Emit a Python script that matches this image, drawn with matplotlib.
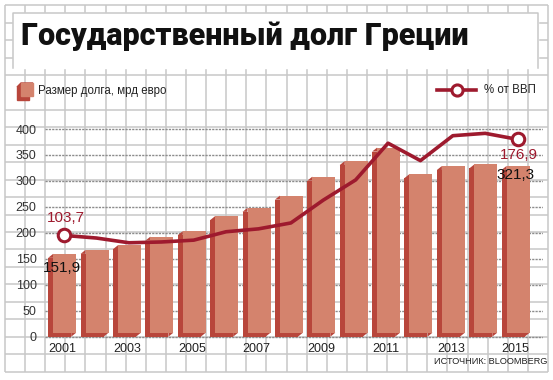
import matplotlib
matplotlib.use('Agg')
import matplotlib.pyplot as plt
import numpy as np

# ---------------- data ----------------
years = [2001, 2002, 2003, 2004, 2005, 2006, 2007, 2008,
         2009, 2010, 2011, 2012, 2013, 2014, 2015]
debt_bn = [151.9, 159.5, 168.5, 185.0, 195.5, 224.5, 240.5, 264.0,
           300.5, 330.5, 356.5, 305.5, 321.0, 324.0, 321.3]
debt_pct = [103.7, 101.7, 98.1, 98.7, 100.1, 106.5, 108.7, 113.2,
            130.6, 146.0, 174.0, 160.7, 179.7, 181.5, 176.9]
xtick_years = [2001, 2003, 2005, 2007, 2009, 2011, 2013, 2015]
yticks = [0, 50, 100, 150, 200, 250, 300, 350, 400]

title = "Государственный долг Греции"
legend_bars = "Размер долга, мрд евро"
legend_line = "% от ВВП"
source = "ИСТОЧНИК: BLOOMBERG"

# ---------------- style ----------------
W, H = 553, 380
GRID = '#c8c8c8'
FRONT = '#d4836d'
BACK = '#b8463b'
LINE = '#9e1a2e'
NARROW = ['Liberation Sans Narrow', 'Liberation Sans', 'DejaVu Sans']
SANS = ['Liberation Sans', 'DejaVu Sans']

fig = plt.figure(figsize=(W / 100, H / 100), dpi=100)
fig.patch.set_facecolor('white')

# background axes in pixel coordinates
bg = fig.add_axes([0, 0, 1, 1], zorder=0)
bg.set_xlim(0, W)
bg.set_ylim(H, 0)
bg.axis('off')

# graph paper
x0, x1, y0, y1 = 5, 548, 5, 372
for gx in np.linspace(x0, x1, 28):
    bg.plot([gx, gx], [y0, y1], color=GRID, lw=1.1, solid_capstyle='butt')
step = 17.45
for k in range(-2, 20):
    gy = 336.7 - step * k
    if 80 < gy < 105:          # legend band has no horizontal line
        continue
    bg.plot([x0, x1], [gy, gy], color=GRID, lw=1.1, solid_capstyle='butt')

# title box
bg.fill([13, 538, 538, 13], [13, 13, 68, 68], color='white', zorder=3)
bg.plot([13, 13, 538, 538], [68, 13, 13, 68], color=GRID, lw=1.1, zorder=4)
bg.text(21, 36, title, fontsize=22, fontweight='black', family=['Roboto', 'DejaVu Sans'],
        color='#111111', va='center', ha='left', zorder=5)

# legend left (cube icon)
bg.fill([17, 29, 29, 17], [87, 87, 100, 100], color=BACK, zorder=5)
bg.fill([17, 21, 33, 29], [87, 83, 83, 87], color=BACK, zorder=5)
bg.fill([21, 33, 33, 21], [83, 83, 96, 96], color=FRONT, zorder=6)
bg.text(38, 91, legend_bars, fontsize=8.3, family=NARROW, color='#222222',
        va='center', ha='left', zorder=6)

# legend right (line + marker)
bg.plot([437, 476], [90, 90], color=LINE, lw=2.6, zorder=5)
bg.plot([457], [90], marker='o', ms=8, mfc='white', mec=LINE, mew=2.2, zorder=6)
bg.text(484, 90, legend_line, fontsize=8.3, family=NARROW, color='#222222',
        va='center', ha='left', zorder=6)

# source
bg.text(547, 362, source, fontsize=6.6, family=NARROW, color='#222222',
        va='center', ha='right', zorder=6)

# ---------------- main axes ----------------
ppu_x = 32.39          # pixels per year
ppu_y = 0.519          # pixels per unit
xlim = ((45 - 62.2) / ppu_x, (543 - 62.2) / ppu_x)
ylim = (-5, 405)
bottom_px = 336.7 + 5 * ppu_y
top_px = 129 - 5 * ppu_y
ax = fig.add_axes([45 / W, (H - bottom_px) / H, 498 / W, (bottom_px - top_px) / H], zorder=2)
ax.set_facecolor('none')
ax.set_xlim(*xlim)
ax.set_ylim(*ylim)
for s in ax.spines.values():
    s.set_visible(False)

# dotted value gridlines
ax.set_yticks(yticks)
ax.set_yticklabels([str(v) for v in yticks], family=SANS, fontsize=9, color='#333333')
ax.tick_params(axis='y', length=0, pad=6)
ax.yaxis.grid(True, color='#8c8c8c', lw=1.0, linestyle=(0, (1.6, 0.8)))
ax.set_axisbelow(True)

idx = np.arange(len(years))
ax.set_xticks([years.index(y) for y in xtick_years])
ax.set_xticklabels([str(y) for y in xtick_years], family=SANS, fontsize=9, color='#222222')
ax.tick_params(axis='x', length=0, pad=3)

# 3D-looking bars: darker back face, lighter front face, bevel corners
off_x = 2.5 / ppu_x
off_y = 4.0 / ppu_y
bw = 23 / ppu_x
ax.bar(idx - off_x, debt_bn, width=bw, color=BACK, zorder=3, linewidth=0)
for i, v in zip(idx, debt_bn):
    bl = i - off_x - bw / 2      # back left edge
    fl = i + off_x - bw / 2      # front left edge
    br = i - off_x + bw / 2      # back right edge
    fr = i + off_x + bw / 2      # front right edge
    ax.fill([bl, fl, fl], [v, v + off_y, v], color=BACK, lw=0, zorder=3)
    ax.fill([br, fr, br], [0, off_y, off_y], color=BACK, lw=0, zorder=3)
ax.bar(idx + off_x, debt_bn, width=bw, bottom=off_y, color=FRONT, zorder=4, linewidth=0)

# line on twin scale
ax2 = ax.twinx()
a_, b_ = 2.527, -67.0
ax2.set_ylim((ylim[0] - b_) / a_, (ylim[1] - b_) / a_)
ax2.set_xlim(*xlim)
ax2.axis('off')
lx = idx + 0.06
ax2.plot(lx, debt_pct, color=LINE, lw=2.6, solid_joinstyle='round', zorder=5)
ax2.plot([lx[0], lx[-1]], [debt_pct[0], debt_pct[-1]], linestyle='none', marker='o',
         ms=9, mfc='white', mec=LINE, mew=2.2, zorder=6)

# value labels
ax2.annotate(f"{debt_pct[0]:.1f}".replace('.', ','), (lx[0], debt_pct[0]),
             xytext=(1, 12.5), textcoords='offset points', ha='center', va='center',
             fontsize=11, family=SANS, color=LINE)
ax2.annotate(f"{debt_pct[-1]:.1f}".replace('.', ','), (lx[-1], debt_pct[-1]),
             xytext=(1, -11), textcoords='offset points', ha='center', va='center',
             fontsize=11, family=SANS, color=LINE)
ax.annotate(f"{debt_bn[0]:.1f}".replace('.', ','), (idx[0], debt_bn[0]),
            xytext=(0, -7), textcoords='offset points', ha='center', va='center',
            fontsize=11, family=SANS, color='#111111', zorder=7)
ax.annotate(f"{debt_bn[-1]:.1f}".replace('.', ','), (idx[-1], debt_bn[-1] + off_y),
            xytext=(0, -6.5), textcoords='offset points', ha='center', va='center',
            fontsize=11, family=SANS, color='#111111', zorder=7)

fig.savefig('out.png', dpi=100, facecolor='white')
